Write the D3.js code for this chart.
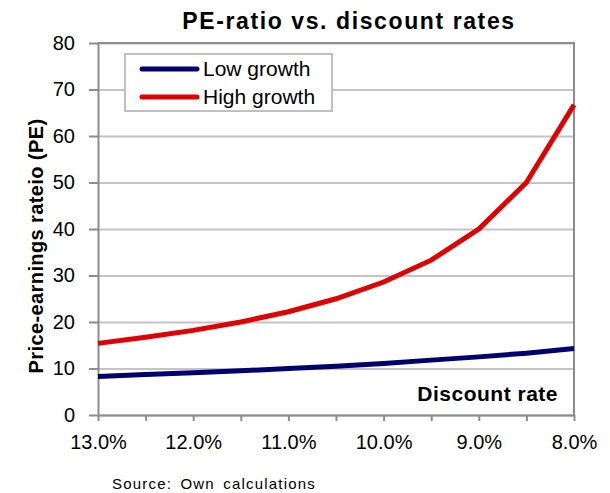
<!DOCTYPE html>
<html>
<head>
<meta charset="utf-8">
<script src="https://cdnjs.cloudflare.com/ajax/libs/d3/7.8.5/d3.min.js"></script>
<style>
  body { margin: 0; background: #fff; }
  svg { display: block; font-family: "Liberation Sans", Arial, sans-serif; }
</style>
</head>
<body>
<div id="chart"></div>
<script>
// Discount rates (%) along the x axis, from high to low
var rates = [13.0, 12.5, 12.0, 11.5, 11.0, 10.5, 10.0, 9.5, 9.0, 8.5, 8.0];
// PE ratios
var lowGrowth = [8.3, 8.7, 9.1, 9.5, 10.0, 10.5, 11.1, 11.8, 12.5, 13.3, 14.3];
var highGrowth = [15.4, 16.7, 18.2, 20.0, 22.2, 25.0, 28.6, 33.3, 40.0, 50.0, 66.7];
var yTicks = [0, 10, 20, 30, 40, 50, 60, 70, 80];
var xLabelTicks = [13.0, 12.0, 11.0, 10.0, 9.0, 8.0];
var seriesNames = ["Low growth", "High growth"];

var svgWidth = 610, svgHeight = 493;
var margin = { top: 43, right: 36, bottom: 78, left: 98 };
var width = svgWidth - margin.left - margin.right,
    height = svgHeight - margin.top - margin.bottom;

var svg = d3.select("#chart").append("svg")
    .attr("width", svgWidth)
    .attr("height", svgHeight);

var chartGroup = svg.append("g")
    .attr("transform", `translate(${margin.left}, ${margin.top})`);

// Scales (x reversed: 13% on the left, 8% on the right)
var x = d3.scaleLinear().domain([13, 8]).range([0, width]);
var y = d3.scaleLinear().domain([0, 80]).range([height, 0]);

// Gridlines
chartGroup.append("g")
    .attr("class", "grid")
    .call(d3.axisLeft(y).tickValues(yTicks).tickSize(-width).tickFormat(""))
    .call(g => g.select(".domain").remove())
    .call(g => g.selectAll("line").attr("stroke", "#c4c4c4").attr("stroke-width", 2));

// Plot frame (top and right)
chartGroup.append("path")
    .attr("d", `M0,0H${width}V${height}`)
    .attr("fill", "none")
    .attr("stroke", "#8c8c8c")
    .attr("stroke-width", 2);

// Y axis
var yAxis = chartGroup.append("g")
    .call(d3.axisLeft(y).tickValues(yTicks).tickSize(9).tickSizeOuter(0).tickPadding(14))
    .call(g => g.select(".domain").attr("stroke", "#8c8c8c").attr("stroke-width", 2))
    .call(g => g.selectAll("line").attr("stroke", "#8c8c8c").attr("stroke-width", 2))
    .call(g => g.selectAll("text").attr("font-size", 20).attr("fill", "#000")
        .attr("font-family", "Liberation Sans, Arial, sans-serif"));

// X axis, ticks every 0.5%, labels on whole percents
var xAxis = chartGroup.append("g")
    .attr("transform", `translate(0, ${height})`)
    .call(d3.axisBottom(x).tickValues(rates).tickSize(6).tickSizeOuter(0).tickPadding(14)
        .tickFormat(d => xLabelTicks.indexOf(d) >= 0 ? d3.format(".1f")(d) + "%" : ""))
    .call(g => g.select(".domain").attr("stroke", "#8c8c8c").attr("stroke-width", 2))
    .call(g => g.selectAll("line").attr("stroke", "#8c8c8c").attr("stroke-width", 2))
    .call(g => g.selectAll("text").attr("font-size", 20).attr("fill", "#000")
        .attr("font-family", "Liberation Sans, Arial, sans-serif"));

// Lines
var line = d3.line()
    .x((d, i) => x(rates[i]))
    .y(d => y(d));

chartGroup.append("path")
    .datum(lowGrowth)
    .attr("d", line)
    .attr("fill", "none")
    .attr("stroke", "#000070")
    .attr("stroke-width", 5);

chartGroup.append("path")
    .datum(highGrowth)
    .attr("d", line)
    .attr("fill", "none")
    .attr("stroke", "#e00000")
    .attr("stroke-width", 5);

// Title
svg.append("text")
    .attr("x", 349)
    .attr("y", 29)
    .attr("text-anchor", "middle")
    .attr("font-size", 23)
    .attr("font-weight", "bold")
    .style("letter-spacing", "1.6px")
    .text("PE-ratio vs. discount rates");

// Y axis title
svg.append("text")
    .attr("transform", "translate(43, 246) rotate(-90)")
    .attr("text-anchor", "middle")
    .attr("font-size", 20)
    .attr("font-weight", "bold")
    .style("letter-spacing", "0.4px")
    .text("Price-earnings rateio (PE)");

// X axis title inside the plot
svg.append("text")
    .attr("x", 558)
    .attr("y", 401)
    .attr("text-anchor", "end")
    .attr("font-size", 21)
    .attr("font-weight", "bold")
    .style("letter-spacing", "0.5px")
    .text("Discount rate");

// Legend
var legend = svg.append("g");
legend.append("rect")
    .attr("x", 125).attr("y", 54)
    .attr("width", 207).attr("height", 57)
    .attr("fill", "#fff")
    .attr("stroke", "#c0c0c0")
    .attr("stroke-width", 2);

var legendColors = ["#000070", "#e00000"];
seriesNames.forEach(function(name, i) {
    var ly = 69 + i * 28;
    legend.append("line")
        .attr("x1", 142).attr("x2", 197)
        .attr("y1", ly).attr("y2", ly)
        .attr("stroke", legendColors[i])
        .attr("stroke-width", 5)
        .attr("stroke-linecap", "round");
    legend.append("text")
        .attr("x", 203)
        .attr("y", ly + 7)
        .attr("font-size", 21)
        .text(name);
});

// Source note
svg.append("text")
    .attr("x", 112)
    .attr("y", 489)
    .attr("font-size", 15)
    .style("letter-spacing", "1.2px")
    .style("word-spacing", "3px")
    .text("Source: Own calculations");
</script>
</body>
</html>
